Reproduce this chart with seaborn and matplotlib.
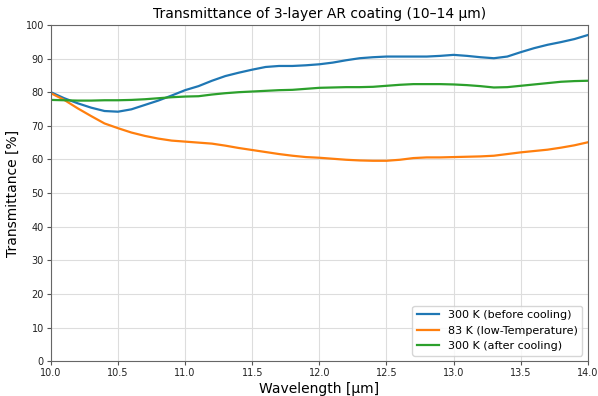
import seaborn as sns
import matplotlib.pyplot as plt
import pandas as pd

wavelength = [round(10.0 + 0.1 * i, 1) for i in range(41)]
t_before = [80.0, 78.2, 76.7, 75.4, 74.4, 74.2, 74.9, 76.2, 77.5, 79.0,
            80.6, 81.8, 83.4, 84.8, 85.8, 86.7, 87.5, 87.8, 87.8, 88.0,
            88.3, 88.8, 89.5, 90.1, 90.4, 90.6, 90.6, 90.6, 90.6, 90.8,
            91.1, 90.8, 90.4, 90.1, 90.6, 91.9, 93.1, 94.1, 94.9, 95.8, 97.0]
t_low = [79.7, 77.7, 75.2, 72.9, 70.7, 69.3, 68.0, 67.0, 66.2, 65.6,
         65.3, 65.0, 64.7, 64.1, 63.4, 62.8, 62.2, 61.6, 61.1, 60.7,
         60.5, 60.2, 59.9, 59.7, 59.6, 59.6, 59.9, 60.4, 60.6, 60.6,
         60.7, 60.8, 60.9, 61.1, 61.6, 62.1, 62.5, 62.9, 63.5, 64.2, 65.1]
t_after = [77.7, 77.6, 77.5, 77.5, 77.6, 77.6, 77.7, 77.9, 78.2, 78.5,
           78.7, 78.8, 79.3, 79.7, 80.0, 80.2, 80.4, 80.6, 80.7, 81.0,
           81.3, 81.4, 81.5, 81.5, 81.6, 81.9, 82.2, 82.4, 82.4, 82.4,
           82.3, 82.1, 81.8, 81.4, 81.5, 81.9, 82.3, 82.7, 83.1, 83.3, 83.4]
labels = ['300 K (before cooling)', '83 K (low-Temperature)', '300 K (after cooling)']

n = len(wavelength)
df = pd.DataFrame({
    'wl': wavelength * 3,
    'T': t_before + t_low + t_after,
    'series': [labels[0]] * n + [labels[1]] * n + [labels[2]] * n,
})

fig, ax = plt.subplots(figsize=(5.98, 3.96), dpi=100)
sns.lineplot(data=df, x='wl', y='T', hue='series', palette=['#1f77b4', '#ff7f0e', '#2ca02c'],
             linewidth=1.6, ax=ax)

ax.set_xlim(10, 14)
ax.set_ylim(0, 100)
ax.set_xticks([10, 10.5, 11, 11.5, 12, 12.5, 13, 13.5, 14])
ax.set_yticks(range(0, 101, 10))
ax.tick_params(labelsize=7, length=3, pad=2, color='#555555', labelcolor='#222222')
for s in ax.spines.values():
    s.set_color('#666666')
ax.grid(True, color='#dddddd', linewidth=0.8)
ax.set_title('Transmittance of 3-layer AR coating (10–14 µm)', fontsize=10, pad=5)
ax.set_xlabel('Wavelength [µm]', fontsize=10, labelpad=3)
ax.set_ylabel('Transmittance [%]', fontsize=10, labelpad=4)
ax.legend(loc='lower right', fontsize=8)

fig.subplots_adjust(left=0.085, right=0.983, top=0.937, bottom=0.088)
fig.savefig('out.png', dpi=100)
